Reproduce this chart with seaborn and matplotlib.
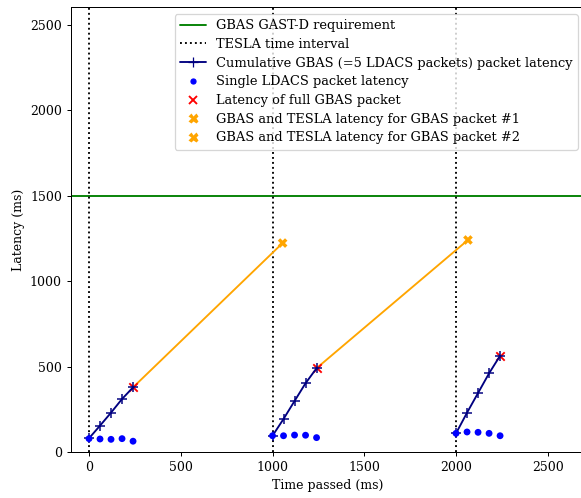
import numpy as np
import pandas as pd
import matplotlib
matplotlib.use("Agg")
import matplotlib.pyplot as plt
import seaborn as sns
from matplotlib.lines import Line2D

# packet send times (ms) for the three GBAS packets (5 LDACS packets each)
times_p1 = [0, 60, 120, 180, 240]
times_p2 = [1000, 1060, 1120, 1180, 1240]
times_p3 = [2000, 2060, 2120, 2180, 2240]

# cumulative GBAS latency (ms)
cum_p1 = [80, 154, 230, 310, 378]
cum_p2 = [95, 193, 298, 402, 490]
cum_p3 = [109, 230, 345, 460, 563]

# single LDACS packet latency (ms)
single_p1 = [78, 76, 74, 78, 63]
single_p2 = [95, 95, 99, 98, 84]
single_p3 = [109, 117, 115, 109, 95]

# GBAS + TESLA latency points
tesla_time = [1055, 2065]
tesla_latency = [1222, 1240]

tesla_intervals = [0, 1000, 2000]
requirement = 1500

sns.set_style("ticks")
plt.rcParams['font.family'] = ['DejaVu Serif']
plt.rcParams['text.color'] = 'black'
plt.rcParams['axes.labelcolor'] = 'black'
plt.rcParams['xtick.color'] = 'black'
plt.rcParams['ytick.color'] = 'black'
plt.rcParams['axes.edgecolor'] = 'black'

DPI = 90
fig = plt.figure(figsize=(581 / DPI, 498 / DPI), dpi=DPI)
ax = fig.add_axes([0.1216, 0.0924, 0.8844, 0.8926])

ax.axhline(requirement, color='green', lw=1.5)
for t in tesla_intervals:
    ax.axvline(t, color='black', ls=':', lw=1.5)

packets = [(times_p1, cum_p1, single_p1), (times_p2, cum_p2, single_p2), (times_p3, cum_p3, single_p3)]

# orange connections from full GBAS packet to TESLA-authenticated latency
for i in range(2):
    t, c, _ = packets[i]
    sns.lineplot(x=[t[-1], tesla_time[i]], y=[c[-1], tesla_latency[i]], color='orange', lw=1.5, ax=ax)

for t, c, s in packets:
    sns.scatterplot(x=[t[-1]], y=[c[-1]], color='red', marker='x', s=45, linewidth=1.5, ax=ax, zorder=3)
    sns.lineplot(x=t, y=c, color='navy', marker='+', markersize=8, markeredgecolor='navy',
                 markeredgewidth=1.2, lw=1.5, ax=ax, zorder=4)
    sns.scatterplot(x=t, y=s, color='blue', s=30, edgecolor='none', ax=ax, zorder=4)

sns.scatterplot(x=[tesla_time[0]], y=[tesla_latency[0]], color='orange', marker='X', s=60, edgecolor='none', ax=ax, zorder=4)
sns.scatterplot(x=[tesla_time[1]], y=[tesla_latency[1]], color='orange', marker='X', s=60, edgecolor='none', ax=ax, zorder=4)

handles = [
    Line2D([], [], color='green', lw=1.5),
    Line2D([], [], color='black', ls=':', lw=1.5),
    Line2D([], [], color='navy', lw=1.5, marker='+', markersize=8),
    Line2D([], [], color='blue', ls='', marker='o', markersize=4),
    Line2D([], [], color='red', ls='', marker='x', markersize=7, markeredgewidth=1.5),
    Line2D([], [], color='orange', ls='', marker='X', markersize=8, markeredgecolor='none'),
    Line2D([], [], color='orange', ls='', marker='X', markersize=8, markeredgecolor='none'),
]
labels = ['GBAS GAST-D requirement', 'TESLA time interval',
          'Cumulative GBAS (=5 LDACS packets) packet latency',
          'Single LDACS packet latency', 'Latency of full GBAS packet',
          'GBAS and TESLA latency for GBAS packet #1',
          'GBAS and TESLA latency for GBAS packet #2']
ax.legend(handles, labels, loc='upper right', fontsize=10.4, labelspacing=0.44)

ax.set_xlim(-100, 2700)
ax.set_ylim(0, 2600)
ax.set_xticks([0, 500, 1000, 1500, 2000, 2500])
ax.set_yticks([0, 500, 1000, 1500, 2000, 2500])
ax.set_xlabel('Time passed (ms)')
ax.set_ylabel('Latency (ms)')

fig.savefig('out.png', dpi=DPI)
